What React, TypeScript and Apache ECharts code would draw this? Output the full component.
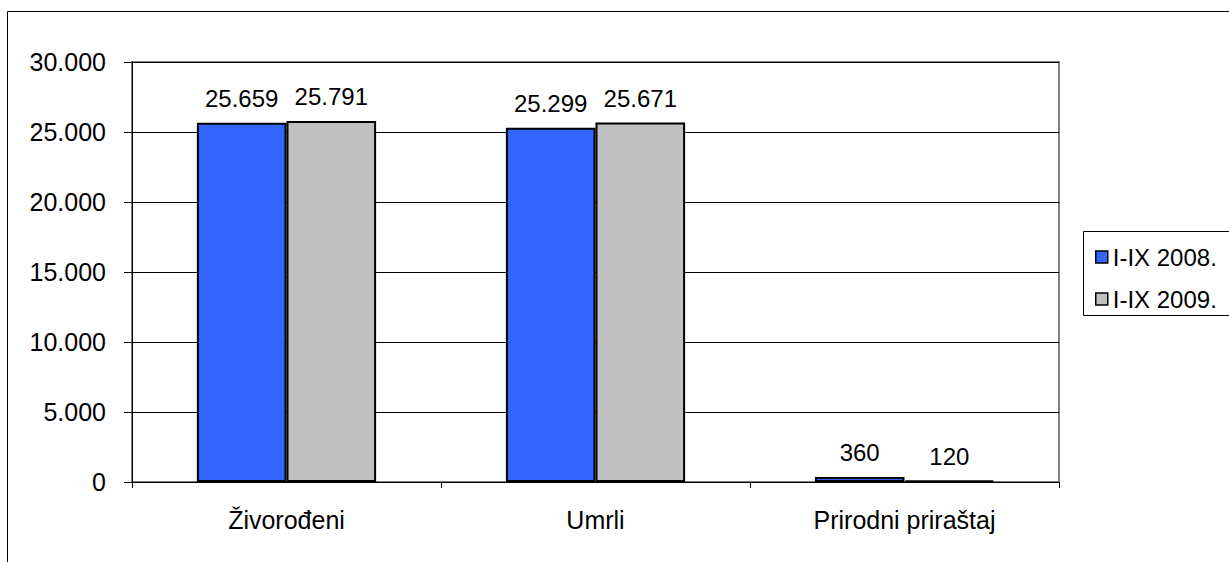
import React, { useEffect, useRef } from "react";
import * as echarts from "echarts";

const categories = ["Živorođeni", "Umrli", "Prirodni priraštaj"];
const series2008 = [25659, 25299, 360];
const series2009 = [25791, 25671, 120];
const seriesNames = ["I-IX 2008.", "I-IX 2009."];
const yTicks = { min: 0, max: 30000, interval: 5000 };

const FONT = "'Liberation Sans', Arial, sans-serif";
const fmt = (v: number) => String(v).replace(/\B(?=(\d{3})+(?!\d))/g, ".");

export default function App() {
  const ref = useRef<HTMLDivElement>(null);
  useEffect(() => {
    if (!ref.current) return;
    const chart = echarts.init(ref.current, null, { renderer: "svg" });
    const labelCfg = {
      show: true,
      position: "top" as const,
      distance: 12,
      color: "#000",
      fontSize: 24,
      fontFamily: FONT,
      formatter: (p: any) => fmt(p.value),
    };
    chart.setOption({
      animation: false,
      backgroundColor: "#fff",
      textStyle: { fontFamily: FONT },
      grid: {
        left: 132,
        right: 170,
        top: 62,
        bottom: 80,
        show: true,
        borderColor: "#808080",
        borderWidth: 2,
        backgroundColor: "transparent",
      },
      graphic: [
        {
          type: "rect",
          shape: { x: 7.5, y: 11.5, width: 1400, height: 700 },
          style: { fill: "none", stroke: "#000", lineWidth: 1 },
          silent: true,
        },
        {
          type: "rect",
          shape: { x: 1083.5, y: 231.5, width: 300, height: 84 },
          style: { fill: "#fff", stroke: "#000", lineWidth: 1 },
          silent: true,
          z: 0,
        },
      ],
      legend: {
        orient: "vertical",
        left: 1090,
        top: 240,
        itemWidth: 12,
        itemHeight: 12,
        itemGap: 18,
        icon: "rect",
        textStyle: { fontSize: 24, color: "#000", fontFamily: FONT },
        itemStyle: { borderColor: "#000", borderWidth: 1.5 },
        data: seriesNames,
        z: 5,
      },
      xAxis: {
        type: "category",
        data: categories,
        axisLine: { lineStyle: { color: "#000", width: 1 } },
        axisTick: { show: true, length: 6, lineStyle: { color: "#000" } },
        axisLabel: { fontSize: 25, color: "#000", margin: 25, fontFamily: FONT },
      },
      yAxis: {
        type: "value",
        min: yTicks.min,
        max: yTicks.max,
        interval: yTicks.interval,
        axisLine: { show: true, lineStyle: { color: "#000", width: 1 } },
        axisTick: { show: true, length: 8, lineStyle: { color: "#000" } },
        splitLine: { lineStyle: { color: "#000", width: 1 } },
        axisLabel: {
          fontSize: 25,
          color: "#000",
          margin: 26,
          fontFamily: FONT,
          formatter: (v: number) => fmt(v),
        },
      },
      series: [
        {
          name: seriesNames[0],
          type: "bar",
          data: series2008,
          barGap: "0%",
          barCategoryGap: "42%",
          itemStyle: { color: "#3366FF", borderColor: "#000", borderWidth: 2 },
          label: labelCfg,
        },
        {
          name: seriesNames[1],
          type: "bar",
          data: series2009,
          barGap: "0%",
          barCategoryGap: "42%",
          itemStyle: { color: "#C0C0C0", borderColor: "#000", borderWidth: 2 },
          label: labelCfg,
        },
      ],
    });
    return () => chart.dispose();
  }, []);
  return (
    <div
      ref={ref}
      style={{ position: "fixed", left: 0, top: 0, width: 1229, height: 562, background: "#fff" }}
    />
  );
}
